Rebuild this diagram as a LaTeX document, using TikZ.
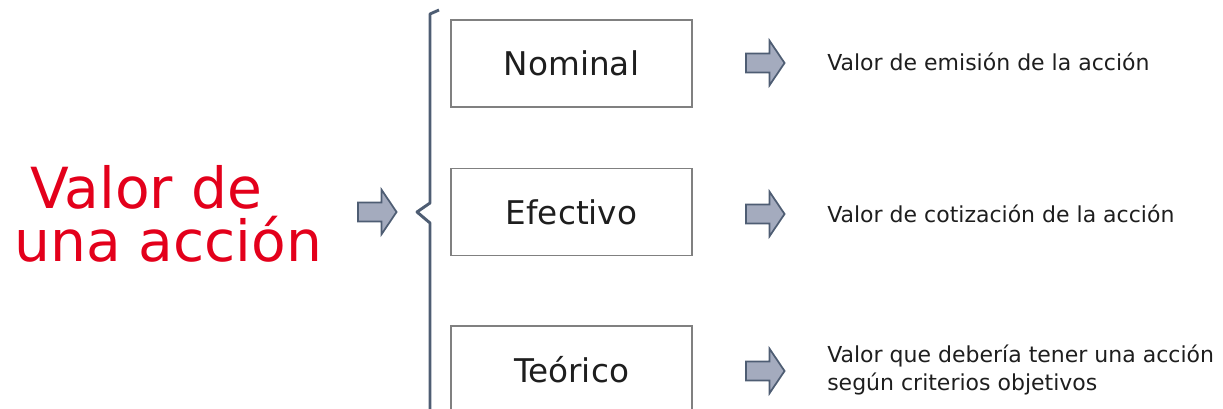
\documentclass[tikz,border=0pt]{standalone}
\usepackage{fontspec}
\setmainfont{DejaVu Sans}
\usetikzlibrary{shapes.arrows,positioning}

\definecolor{valred}{HTML}{E3001B}
\definecolor{slate}{HTML}{4E5D73}
\definecolor{arrowfill}{HTML}{A4ABBE}
\definecolor{boxgray}{HTML}{808080}
\definecolor{txtdark}{HTML}{1E1E1E}

\tikzset{
  kindbox/.style={draw=boxgray, line width=1.1pt, minimum width=180.75pt, minimum height=65.25pt,
    inner sep=0pt, font=\fontsize{24.5}{30}\selectfont, text=txtdark},
  blockarrow/.style={single arrow, draw=slate, fill=arrowfill, line width=1.3pt,
    inner sep=6.5pt, single arrow head extend=9.5pt, single arrow tip angle=112,
    minimum height=29pt, anchor=center},
  meaning/.style={anchor=west, align=left, font=\fontsize{16.5}{21}\selectfont, text=txtdark, inner sep=0pt},
}

\begin{document}
\begin{tikzpicture}[x=0.75pt, y=-0.75pt]
  \useasboundingbox (0,0) rectangle (1223,409);
  %title
  \node[anchor=west, align=left, text=valred, inner sep=0pt,
        font=\fontsize{42.5}{40}\selectfont] (title) at (14,214)
        {\hspace*{12pt}Valor de\\una acción};
  \node[blockarrow] (a0) at (374,212) {};
  %brace
  \draw[slate, line width=2.2pt, line join=round]
    (439,10) -- (430,14) -- (430,203) -- (417,212) -- (430,223) -- (430,412);
  %boxes
  \node[kindbox] (nominal)  at (571.5,63.5)  {\raisebox{-2pt}{Nominal}};
  \node[kindbox] (efectivo) at (571.5,212)   {\raisebox{-2pt}{Efectivo}};
  \node[kindbox] (teorico)  at (571.5,369.5) {\raisebox{-2pt}{Teórico}};
  %arrows
  \node[blockarrow] (a1) at (762,63)  {};
  \node[blockarrow] (a2) at (762,214) {};
  \node[blockarrow] (a3) at (762,371) {};
  %meanings
  \node[meaning] (m1) at (827,62)  {Valor de emisión de la acción};
  \node[meaning] (m2) at (827,214) {Valor de cotización de la acción};
  \node[meaning] (m3) at (827,370) {Valor que debería tener una acción\\según criterios objetivos};
\end{tikzpicture}
\end{document}
